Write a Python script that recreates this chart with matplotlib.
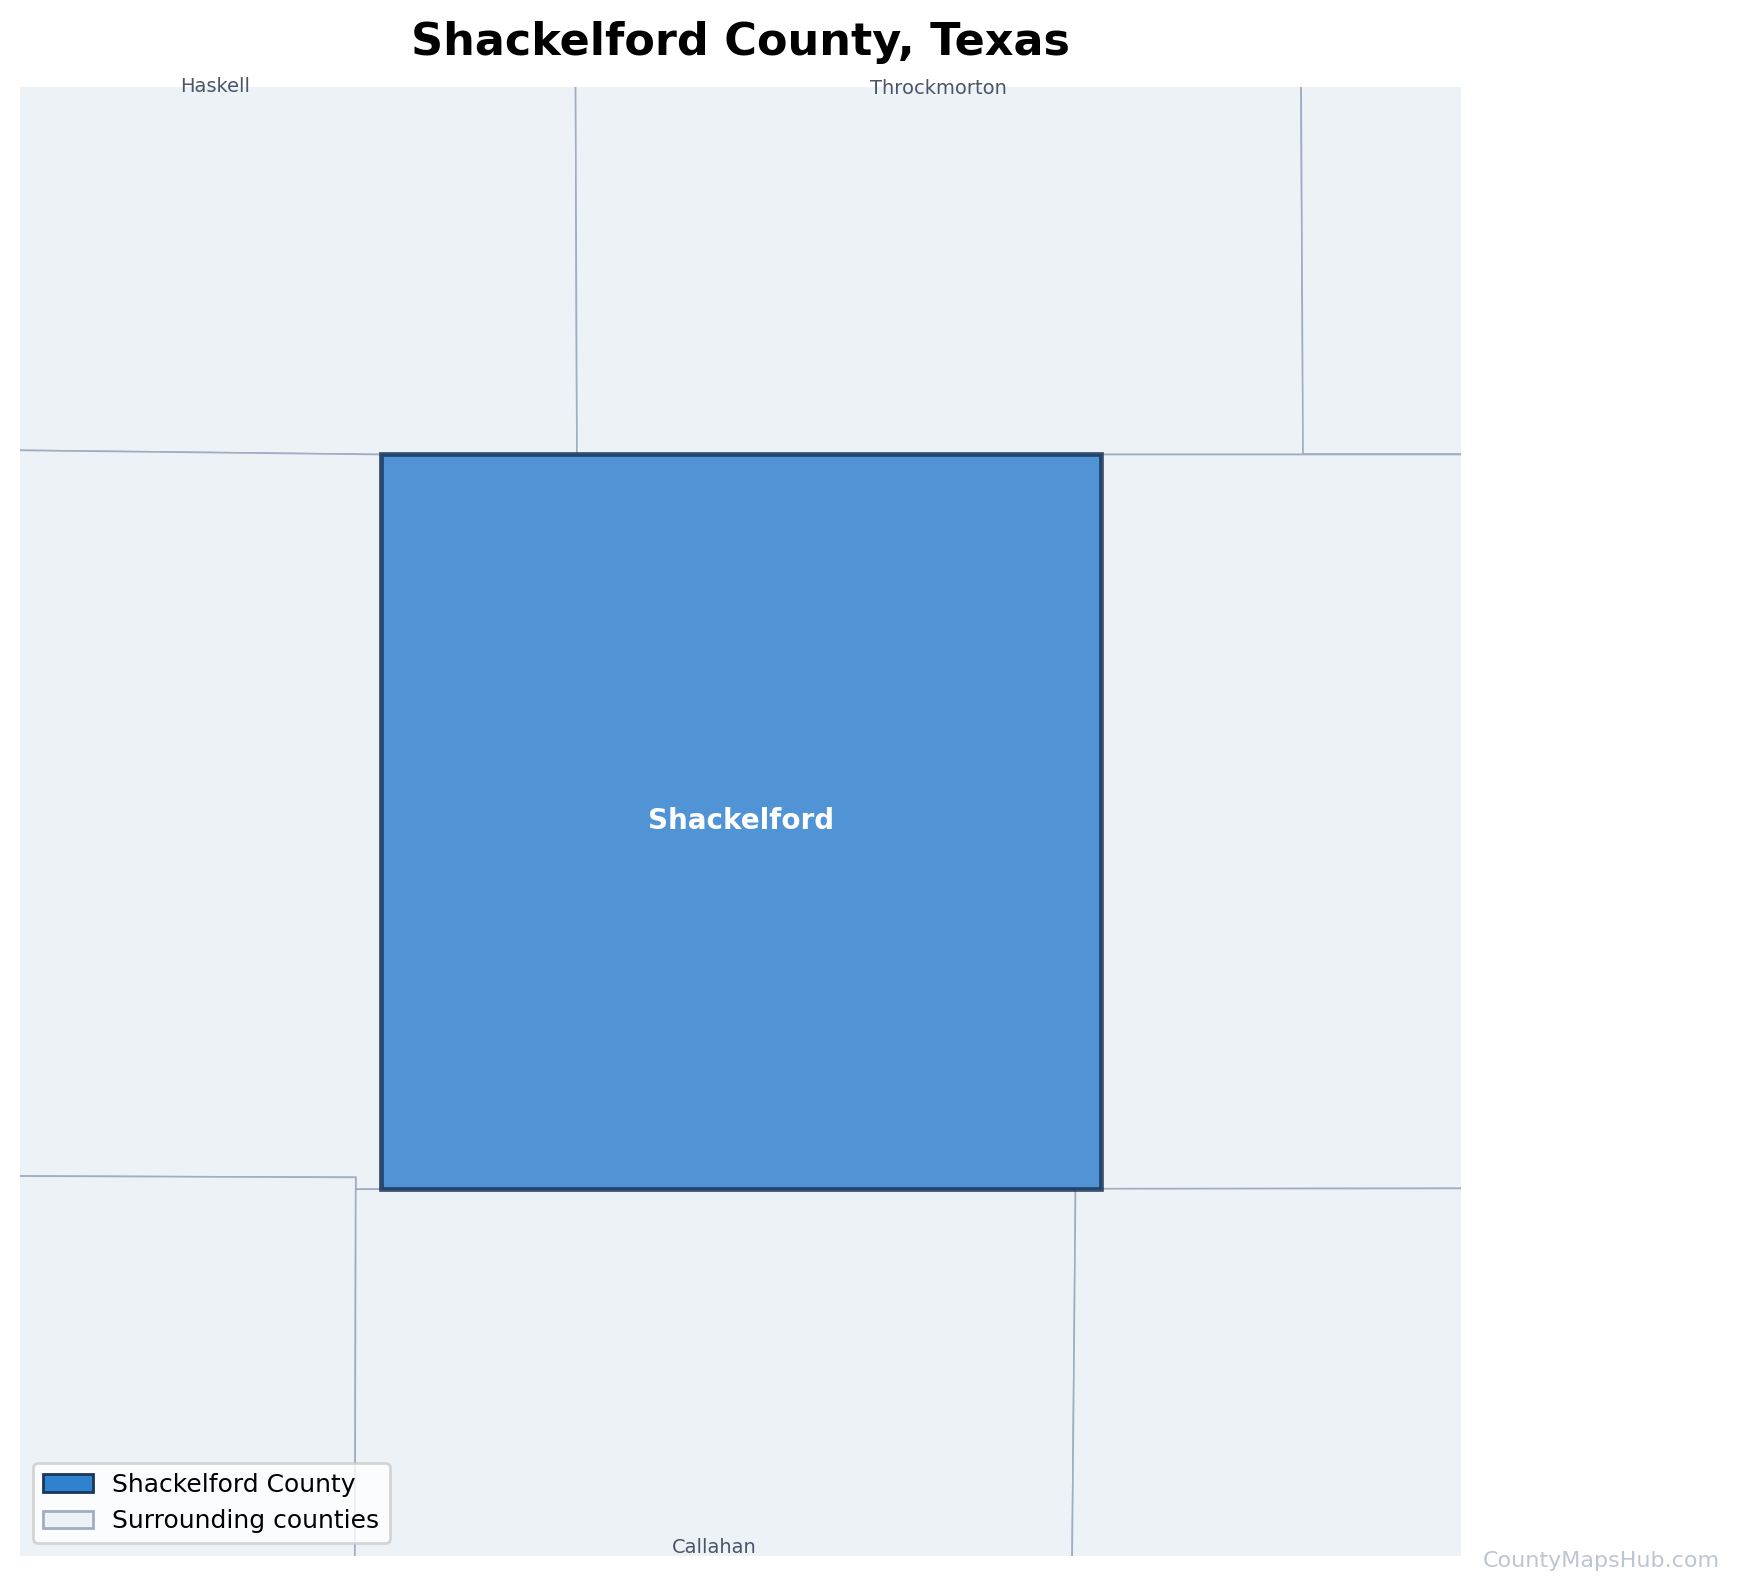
import matplotlib
matplotlib.use("Agg")
import matplotlib.pyplot as plt
from matplotlib.patches import Polygon, Patch

FIG_W, FIG_H = 1740, 1594
DPI = 200
TITLE = "Shackelford County, Texas"
WATERMARK = "CountyMapsHub.com"

# county outlines (lon, lat)
shackelford = [(-99.5998, 33.1451), (-99.1000, 33.1451), (-99.1000, 32.6355), (-99.5998, 32.6355)]
haskell = [(-100.0, 33.55), (-99.4650, 33.55), (-99.4635, 33.1451), (-99.5998, 33.1451), (-100.0, 33.1497)]
throckmorton = [(-99.4650, 33.55), (-98.9620, 33.55), (-98.9595, 33.1451), (-99.4635, 33.1451)]
young = [(-98.9620, 33.55), (-98.7, 33.55), (-98.7, 33.1451), (-98.9595, 33.1451)]
jones = [(-100.0, 33.1497), (-99.5998, 33.1451), (-99.5998, 32.6355), (-99.617, 32.6355), (-99.617, 32.6437), (-100.0, 32.6452)]
stephens = [(-99.1000, 33.1451), (-98.7, 33.1451), (-98.7, 32.6362), (-99.1000, 32.6358)]
taylor = [(-100.0, 32.6452), (-99.617, 32.6437), (-99.6180, 32.2), (-100.0, 32.2)]
callahan = [(-99.617, 32.6355), (-99.1175, 32.6355), (-99.1215, 32.2), (-99.6180, 32.2)]
eastland = [(-99.1175, 32.6355), (-99.1000, 32.6358), (-98.7, 32.6362), (-98.7, 32.2), (-99.1215, 32.2)]
neighbours = [haskell, throckmorton, young, jones, stephens, taylor, callahan, eastland]

neighbour_labels = ["Haskell", "Throckmorton", "Callahan"]
neighbour_lons = [-99.7147, -99.2129, -99.3684]
neighbour_lats = [33.4003, 33.3988, 32.3868]
main_label = "Shackelford"
main_lon, main_lat = -99.3497, 32.8908

XLIM = (-99.85, -98.85)
YLIM = (32.3813, 33.4)

LIGHT = "#edf2f7"
LIGHT_EDGE = "#a0aec0"
BLUE = "#3182ce"
NAVY = "#1a365d"

fig = plt.figure(figsize=(FIG_W / DPI, FIG_H / DPI), dpi=DPI, facecolor="white")
ax = fig.add_axes([20 / FIG_W, 1 - 1555.7 / FIG_H, 1441 / FIG_W, 1468.7 / FIG_H])

for poly in neighbours:
    ax.add_patch(Polygon(poly, closed=True, facecolor=LIGHT, edgecolor=LIGHT_EDGE, linewidth=0.6, zorder=1))
ax.add_patch(Polygon(shackelford, closed=True, facecolor=BLUE, edgecolor=NAVY, linewidth=1.7, alpha=0.85, zorder=2))

for name, lon, lat in zip(neighbour_labels, neighbour_lons, neighbour_lats):
    ax.text(lon, lat, name, ha="center", va="center", fontsize=7, color="#4a5568", zorder=3, clip_on=False)
ax.text(main_lon, main_lat, main_label, ha="center", va="center", fontsize=10, fontweight="bold", color="white", zorder=4)

ax.set_xlim(*XLIM)
ax.set_ylim(*YLIM)
ax.axis("off")

fig.text(741 / FIG_W, 1 - 42 / FIG_H, TITLE, ha="center", va="center", fontsize=16, fontweight="bold", color="black")
fig.text(1720 / FIG_W, 1 - 1561 / FIG_H, WATERMARK, ha="right", va="center", fontsize=8, color="#a0aec0", alpha=0.7)

handles = [
    Patch(facecolor=BLUE, edgecolor=NAVY, linewidth=1, label="Shackelford County"),
    Patch(facecolor=LIGHT, edgecolor=LIGHT_EDGE, linewidth=1, label="Surrounding counties"),
]
ax.legend(handles=handles, loc="lower left", fontsize=9, framealpha=0.8)

fig.savefig("out.png", dpi=DPI, facecolor="white")
